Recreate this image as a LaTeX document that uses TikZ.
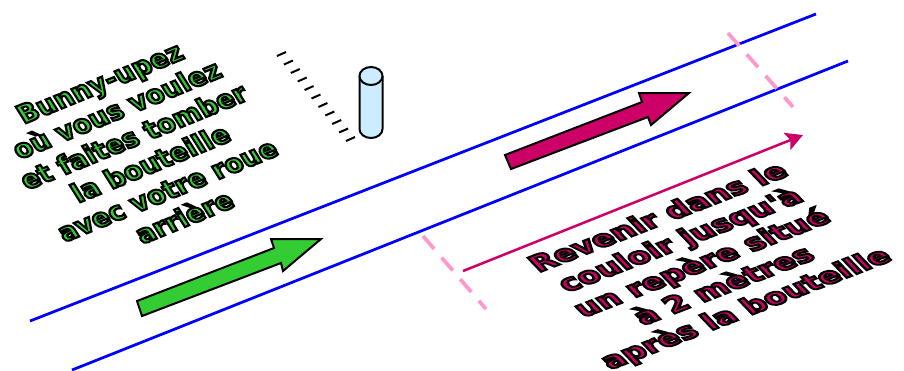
\documentclass[tikz,border=0pt]{standalone}
\usepackage{fontspec}
\setmainfont[Ligatures=TeXOff]{DejaVu Sans}
\usetikzlibrary{arrows.meta}
\definecolor{roadblue}{HTML}{0000FF}
\definecolor{markpink}{HTML}{FF99CC}
\definecolor{gogreen}{HTML}{33CC33}
\definecolor{backred}{HTML}{CC0066}
\definecolor{bottlefill}{HTML}{CCECFF}
\newcommand{\outl}{\special{pdf:code 2 Tr 1.15 w 0 G}}
\tikzset{
  road/.style={draw=roadblue, line width=0.55mm},
  markline/.style={draw=markpink, line width=0.75mm, dash pattern=on 3.4mm off 2.3mm},
  tick/.style={draw=black, line width=0.4mm},
  bigarrow/.style={draw=black, line width=0.4mm, line join=miter},
  backline/.style={-{Stealth[length=3.4mm,width=3.6mm,inset=0.7mm]}, draw=backred, line width=0.5mm},
  bottle/.style={draw=black, line width=0.4mm, fill=bottlefill},
  notetext/.style={font=\fontsize{14}{16.6}\selectfont\bfseries, align=center, inner sep=0pt},
  gotext/.style={notetext, text=gogreen, cm={0.99,0.405,-0.58,0.92,(0,0)}},
  backtext/.style={notetext, text=backred, cm={1.17,0.455,-0.75,0.78,(0,0)}},
}
\begin{document}
\begin{tikzpicture}[x=0.02cm,y=-0.02cm]
  \useasboundingbox (0,0) rectangle (904,370);
  % road
  \coordinate (roada) at (30,321);
  \coordinate (roadb) at (816,14);
  \coordinate (roadc) at (72,370);
  \coordinate (roadd) at (848,61);
  \draw[road] (roada) -- (roadb);
  \draw[road] (roadc) -- (roadd);
  \coordinate (marka) at (423,236);
  \coordinate (markb) at (486,309);
  \coordinate (markc) at (728,33);
  \coordinate (markd) at (793,107);
  \draw[markline] (marka) -- (markb);
  \draw[markline] (markc) -- (markd);
  % ticks
  \foreach \i in {0,...,10}
    \draw[tick] ({277+6.9*\i},{56+8.5*\i}) -- ++(9,-4);
  % bottle
  \draw[bottle] (359.5,76) -- (359.5,129) arc[start angle=180, end angle=360, x radius=11.5, y radius=-9] -- (382.5,76);
  \draw[bottle] (371,76) ellipse[x radius=11.5, y radius=9];
  % arrows
  \draw[bigarrow, fill=gogreen] (137,301) -- (274,248) -- (271,239) -- (321,239) -- (283,271) -- (281,263) -- (142,316) -- cycle;
  \draw[bigarrow, fill=backred] (505,155) -- (642,102) -- (639,93) -- (689,93) -- (651,125) -- (648,117) -- (511,169) -- cycle;
  \coordinate (backa) at (463,271);
  \coordinate (backb) at (803,135);
  \draw[backline] (backa) -- (backb);
  % texts
  \node[gotext] (gonote) at (142,150) {\outl Bunny-upez\\où vous voulez\\et faites tomber\\la bouteille\\avec votre roue\\arrière};
  \node[backtext] (backnote) at (703,264) {\outl Revenir dans le\\couloir jusqu'à\\un repère situé\\à 2 mètres\\après la bouteille};
\end{tikzpicture}
\end{document}
